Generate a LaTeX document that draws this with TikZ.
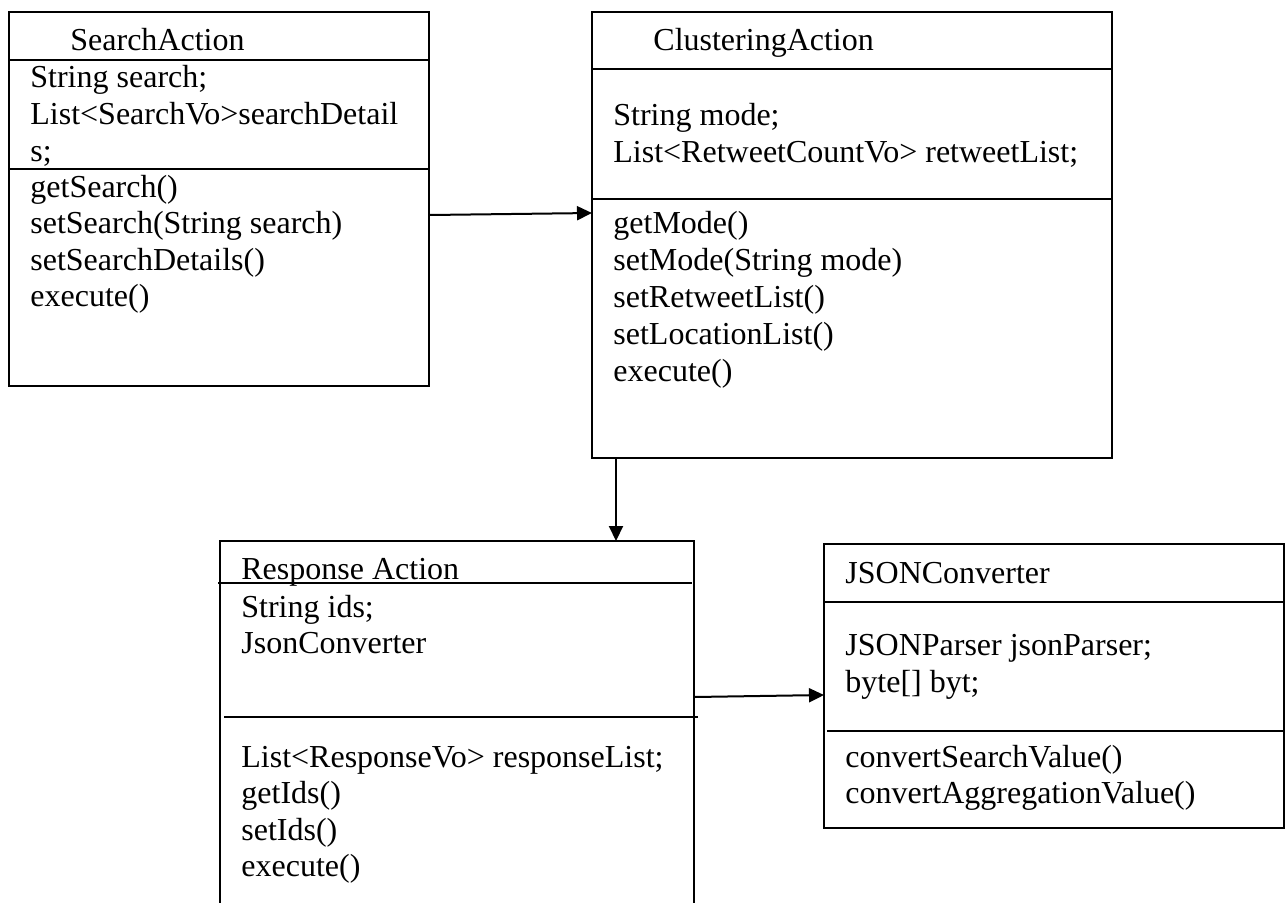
\documentclass[tikz,border=0pt]{standalone}
\usepackage{fontspec}
\setmainfont{Liberation Serif}
\usetikzlibrary{arrows.meta}
\begin{document}
\begin{tikzpicture}[x=0.5pt,y=-0.5pt,
  box/.style={draw=black,line width=1pt,inner sep=0pt,outer sep=0pt,anchor=north west},
  sep/.style={draw=black,line width=1pt},
  txt/.style={anchor=base west,inner sep=0pt,font=\fontsize{16}{18}\selectfont},
  arr/.style={draw=black,line width=1pt,-{Triangle[length=7.5pt,width=7pt]}}]
\useasboundingbox (0,0) rectangle (1286,902);
\clip (0,0) rectangle (1286,902);
% boxes
\node[box,minimum width=210pt,minimum height=187pt] (search) at (9,12) {};
\node[box,minimum width=260pt,minimum height=223pt] (clust) at (592,12) {};
\node[box,minimum width=237pt,minimum height=195pt] (resp) at (220,541) {};
\node[box,minimum width=230pt,minimum height=142pt] (json) at (824,544) {};
% dividers
\draw[sep] (search.north west |- 0,60) -- (search.north east |- 0,60);
\draw[sep] (search.north west |- 0,169) -- (search.north east |- 0,169);
\draw[sep] (clust.north west |- 0,69) -- (clust.north east |- 0,69);
\draw[sep] (clust.north west |- 0,199) -- (clust.north east |- 0,199);
\draw[sep] (218,583) -- (692,583);
\draw[sep] (224,717) -- (698,717);
\draw[sep] (json.north west |- 0,602) -- (json.north east |- 0,602);
\draw[sep] (827,731) -- (json.north east |- 0,731);
% SearchAction
\node[txt] (s0) at (70,50) {SearchAction};
\node[txt] (s1) at (30,87) {String search;};
\node[txt] (s2) at (30,124) {List<SearchVo>searchDetail};
\node[txt] (s3) at (30,161) {s;};
\node[txt] (s4) at (30,197) {getSearch()};
\node[txt] (s5) at (30,233) {setSearch(String search)};
\node[txt] (s6) at (30,270) {setSearchDetails()};
\node[txt] (s7) at (30,306) {execute()};
% ClusteringAction
\node[txt] (c0) at (653,50) {ClusteringAction};
\node[txt] (c1) at (613,125) {String mode;};
\node[txt] (c2) at (613,162) {List<RetweetCountVo> retweetList;};
\node[txt] (c3) at (613,233) {getMode()};
\node[txt] (c4) at (613,270) {setMode(String mode)};
\node[txt] (c5) at (613,307) {setRetweetList()};
\node[txt] (c6) at (613,344) {setLocationList()};
\node[txt] (c7) at (613,381) {execute()};
% Response Action
\node[txt] (r0) at (241,579) {Response Action};
\node[txt] (r1) at (241,617) {String ids;};
\node[txt] (r2) at (241,653) {JsonConverter};
\node[txt] (r3) at (241,767) {List<ResponseVo> responseList;};
\node[txt] (r4) at (241,803) {getIds()};
\node[txt] (r5) at (241,840) {setIds()};
\node[txt] (r6) at (241,876) {execute()};
% JSONConverter
\node[txt] (j0) at (845,583) {JSONConverter};
\node[txt] (j1) at (845,655) {JSONParser jsonParser;};
\node[txt] (j2) at (845,692) {byte[] byt;};
\node[txt] (j3) at (845,767) {convertSearchValue()};
\node[txt] (j4) at (845,803) {convertAggregationValue()};
% connectors
\draw[arr] (search.north east |- 0,215) -- (clust.north west |- 0,213);
\draw[arr] (clust.south west -| 616,0) -- (resp.north west -| 616,0);
\draw[arr] (resp.north east |- 0,697) -- (json.north west |- 0,695);
\end{tikzpicture}
\end{document}
